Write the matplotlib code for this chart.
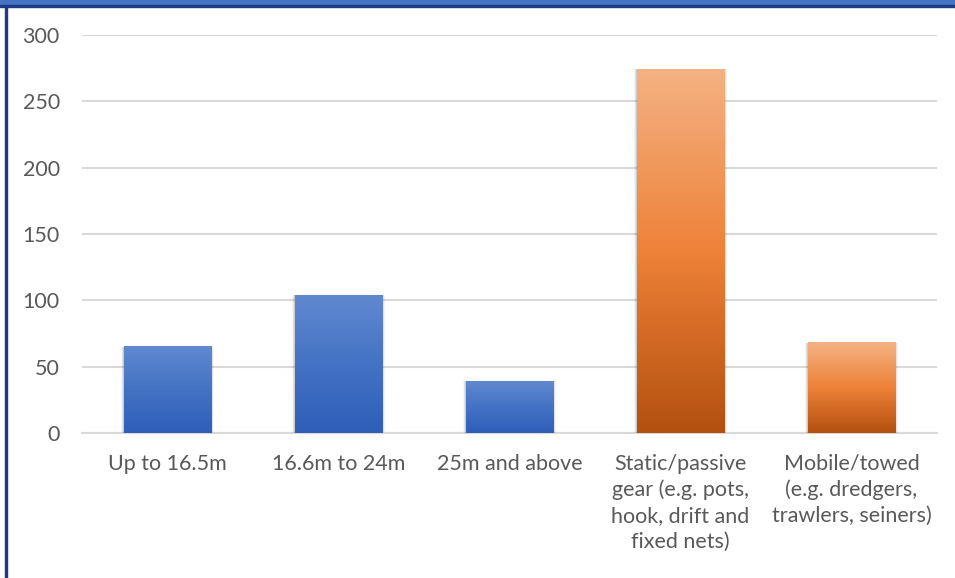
import matplotlib
matplotlib.use("Agg")
import matplotlib.pyplot as plt
import numpy as np
from matplotlib.colors import LinearSegmentedColormap
from matplotlib.patches import Rectangle

# Vessel categories and counts
categories = [
    "Up to 16.5m",
    "16.6m to 24m",
    "25m and above",
    "Static/passive\ngear (e.g. pots,\nhook, drift and\nfixed nets)",
    "Mobile/towed\n(e.g. dredgers,\ntrawlers, seiners)",
]
counts = [65, 104, 39, 274, 68]
groups = ["length", "length", "length", "gear", "gear"]

blue_cmap = LinearSegmentedColormap.from_list("blue", ["#2E5EB9", "#4472C4", "#6089D0"])
orange_cmap = LinearSegmentedColormap.from_list("orange", ["#B3500F", "#EE8238", "#F4B283"])

fig = plt.figure(figsize=(9.55, 5.78), dpi=100)
W, H = 955, 578

# frame: blue band on top, dark edge lines
fig.patches.append(Rectangle((0, (H - 5) / H), 1, 5 / H, transform=fig.transFigure,
                             color="#4472C4", zorder=0))
fig.patches.append(Rectangle((0, (H - 7) / H), 1, 2 / H, transform=fig.transFigure,
                             color="#1E3A80", zorder=0))
fig.patches.append(Rectangle((5 / W, 0), 2 / W, (H - 7) / H, transform=fig.transFigure,
                             color="#1E3A80", zorder=0))

ax = fig.add_axes([82 / W, (H - 433) / H, (937 - 82) / W, (433 - 35) / H])

width = 0.51
grad = np.linspace(0, 1, 256).reshape(-1, 1)
for i, (v, g) in enumerate(zip(counts, groups)):
    cmap = blue_cmap if g == "length" else orange_cmap
    x0, x1 = i - width / 2, i + width / 2
    # soft drop shadow
    for k, a in enumerate([0.10, 0.07, 0.04]):
        d = 0.012 * (k + 1)
        ax.add_patch(Rectangle((x0 - d * 0.5, -3 * (k + 1) * 0.5), width + d, v + 1.5 * (k + 1),
                               color="black", alpha=a, lw=0, zorder=2))
    ax.imshow(grad, extent=[x0, x1, 0, v], origin="lower", cmap=cmap,
              aspect="auto", zorder=3)

ax.set_xlim(-0.5, len(categories) - 0.5)
ax.set_ylim(0, 300)

ax.set_yticks(range(0, 301, 50))
ax.grid(axis="y", color="#D9D9D9", linewidth=1.5, zorder=1)
ax.set_axisbelow(True)
for s in ["top", "right", "left"]:
    ax.spines[s].set_visible(False)
ax.spines["bottom"].set_color("#D9D9D9")
ax.spines["bottom"].set_linewidth(1.5)
ax.spines["bottom"].set_zorder(1)

font = "Lato"
ax.set_xticks(range(len(categories)))
ax.set_xticklabels(categories, fontfamily=font, fontsize=15.5, color="#595959",
                   linespacing=1.36)
for lab in ax.get_yticklabels():
    lab.set_fontfamily(font)
    lab.set_fontsize(15.5)
    lab.set_color("#595959")
ax.tick_params(axis="both", length=0)
ax.tick_params(axis="x", pad=15)
ax.tick_params(axis="y", pad=16)

fig.savefig("out.png", dpi=100)
